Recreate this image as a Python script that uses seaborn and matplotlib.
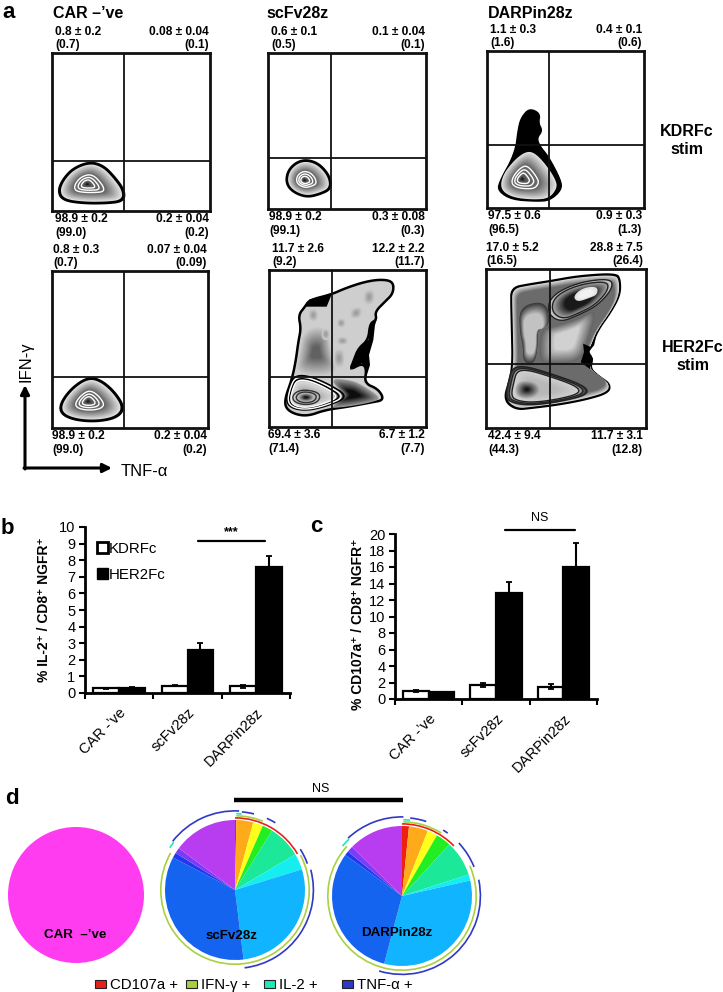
import numpy as np
import pandas as pd
import seaborn as sns
import matplotlib
matplotlib.use("Agg")
import matplotlib.pyplot as plt
from matplotlib.patches import Arc, Patch, Rectangle

W, H = 723, 992

# ---- panel a: quadrant percentages
a_columns = ["CAR \u2013\u2019ve", "scFv28z", "DARPin28z"]
ul_mean = ["0.8 \u00b1 0.2", "0.6 \u00b1 0.1", "1.1 \u00b1 0.3", "0.8 \u00b1 0.3", "11.7 \u00b1 2.6", "17.0 \u00b1 5.2"]
ul_rep = ["(0.7)", "(0.5)", "(1.6)", "(0.7)", "(9.2)", "(16.5)"]
ur_mean = ["0.08 \u00b1 0.04", "0.1 \u00b1 0.04", "0.4 \u00b1 0.1", "0.07 \u00b1 0.04", "12.2 \u00b1 2.2", "28.8 \u00b1 7.5"]
ur_rep = ["(0.1)", "(0.1)", "(0.6)", "(0.09)", "(11.7)", "(26.4)"]
ll_mean = ["98.9 \u00b1 0.2", "98.9 \u00b1 0.2", "97.5 \u00b1 0.6", "98.9 \u00b1 0.2", "69.4 \u00b1 3.6", "42.4 \u00b1 9.4"]
ll_rep = ["(99.0)", "(99.1)", "(96.5)", "(99.0)", "(71.4)", "(44.3)"]
lr_mean = ["0.2 \u00b1 0.04", "0.3 \u00b1 0.08", "0.9 \u00b1 0.3", "0.2 \u00b1 0.04", "6.7 \u00b1 1.2", "11.7 \u00b1 3.1"]
lr_rep = ["(0.2)", "(0.3)", "(1.3)", "(0.2)", "(7.7)", "(12.8)"]

# contour outlines (channel units of each plot)
car_kdr = [(272,488),(310,500),(340,530),(370,570),(370,600),(320,606),(250,606),(190,597),(178,570),(195,535),(225,505)]
scfv_kdr = [(920,483),(955,495),(985,530),(990,565),(960,580),(920,590),(880,575),(860,550),(865,515),(890,490)]
darpin_kdr = [(262,420),(290,430),(325,470),(350,510),(355,535),(330,568),(280,572),(215,565),(178,540),(185,495),(225,445)]
darpin_tower = [(268,295),(300,310),(295,340),(307,362),(290,385),(300,410),(325,440),(362,510),(365,540),(330,572),(290,575),(215,570),(175,545),(175,520),(225,430),(235,350),(245,320)]
car_her = [(262,445),(300,455),(340,490),(368,535),(345,562),(285,573),(220,568),(180,550),(180,520),(215,475)]

scfv_her = [(133,105),(200,88),(240,70),(300,50),(350,43),(385,50),(385,85),(360,110),(330,140),(335,165),(315,175),(310,225),(280,250),(265,290),(255,315),(290,295),(305,310),(298,355),(340,372),(358,405),(320,412),(250,425),(180,435),(130,453),(90,448),(62,430),(60,400),(80,345),(92,290),(100,230),(108,190),(100,150),(120,125)]
scfv_her_wedge = [(120,125),(133,103),(200,88),(185,125),(150,125)]
scfv_her_edge = [(335,165),(315,175),(310,225),(280,250),(265,290),(255,315),(290,295),(305,310),(298,355),(315,300),(312,270),(325,225),(330,180)]
scfv_her_column = [(115,190),(190,180),(200,260),(225,335),(90,335),(100,270)]
scfv_her_spots = [[(255,130),(292,122),(292,158),(255,165)], [(295,75),(330,70),(330,118),(295,122)],
                  [(215,160),(242,160),(242,188),(215,188)], [(170,190),(195,190),(195,225),(170,225)],
                  [(215,215),(250,215),(250,240),(215,240)], [(130,130),(160,130),(160,170),(130,170)],
                  [(205,250),(240,250),(240,310),(205,310)]]
scfv_her_dark = [(190,340),(260,345),(300,365),(350,400),(320,412),(250,425),(190,430),(245,395)]
scfv_her_lobe = [(90,335),(130,335),(190,360),(245,395),(190,420),(130,435),(85,430),(65,410),(75,365)]
scfv_her_core = [(122,380),(150,386),(155,398),(145,410),(120,414),(98,408),(92,396),(102,384)]

darpin_her = [(88,70),(140,60),(205,50),(290,35),(400,28),(412,45),(412,90),(385,140),(345,195),(325,245),(315,260),(330,280),(322,310),(352,335),(382,355),(378,380),(310,400),(230,415),(150,425),(100,430),(65,400),(85,340),(92,290),(90,200),(88,120)]
darpin_her_edge = [(345,195),(325,245),(302,235),(305,260),(295,290),(322,310),(332,280),(318,260),(335,240)]
darpin_her_lobe = [(215,95),(285,60),(375,48),(380,75),(340,120),(290,145),(240,165),(205,140)]
darpin_her_core = [(272,95),(300,70),(345,65),(345,90),(320,100),(285,112)]
darpin_her_column = [(115,130),(190,115),(200,185),(165,185),(165,250),(155,290),(125,285),(125,240),(115,200)]
darpin_her_mid = [(205,185),(290,160),(345,130),(320,220),(295,290),(210,295),(170,290),(175,195)]
darpin_her_lower = [(95,310),(130,305),(200,325),(300,360),(310,385),(230,405),(150,415),(100,410),(75,395),(85,345)]
darpin_her_spot = [(130,345),(160,350),(175,372),(160,392),(130,398),(105,390),(100,368),(110,350)]

# ---- panels b and c
constructs = ["CAR -\u2019ve", "scFv28z", "DARPin28z"]
stim = ["KDRFc", "HER2Fc"]
il2_kdr = [0.30, 0.45, 0.40]
il2_her = [0.33, 2.60, 7.60]
il2_kdr_err = [0.03, 0.03, 0.10]
il2_her_err = [0.04, 0.40, 0.65]
cd107_kdr = [0.95, 1.70, 1.50]
cd107_her = [0.80, 12.80, 16.00]
cd107_kdr_err = [0.10, 0.30, 0.30]
cd107_her_err = [0.10, 1.40, 2.90]

# ---- panel d
slice_colors = ["#F02010", "#FFAA1A", "#FFFF1A", "#22EE22", "#1CE89A", "#14EEEE", "#10B4FF", "#1464F0", "#2038F0", "#7A3CF5", "#B83CF0"]
scfv_slices = [0.3, 3.9, 2.3, 2.4, 7.6, 3.7, 27.8, 34.6, 1.2, 1.3, 14.8]
darpin_slices = [1.6, 4.4, 2.3, 3.5, 8.2, 1.4, 32.6, 30.8, 1.0, 1.4, 12.6]
marker_names = ["CD107a +", "IFN-\u03b3 +", "IL-2 +", "TNF-\u03b1 +"]
marker_colors = ["#E8201C", "#A8D040", "#20E8B8", "#3038C8"]
# arcs round the pies: colour index, start, end (degrees clockwise from 12 o'clock), radius
scfv_arcs = [(0, 0, 60, 1.03), (1, 1, 22, 1.06), (1, 62, 300, 1.06), (2, 1, 5, 1.09), (2, -57, -52, 1.11),
             (3, -52, 3, 1.13), (3, 5, 14, 1.12), (3, 24, 31, 1.12), (3, 58, 70, 1.10), (3, 75, 173, 1.12)]
darpin_arcs = [(0, 0, 46, 1.03), (1, 1, 32, 1.06), (1, 66, 312, 1.06), (2, 1, 6, 1.09), (2, -50, -43, 1.11),
               (3, -43, 1, 1.13), (3, 6, 18, 1.12), (3, 32, 36, 1.11), (3, 47, 68, 1.11), (3, 78, 197, 1.12)]

sns.set_style("white")
plt.rcParams["font.family"] = ["Liberation Sans", "DejaVu Sans"]
plt.rcParams["text.color"] = "black"
plt.rcParams["axes.labelcolor"] = "black"
plt.rcParams["xtick.color"] = "black"
plt.rcParams["ytick.color"] = "black"


def box_axes(fig, left, top, right, bottom):
    return fig.add_axes([left / W, 1 - bottom / H, (right - left) / W, (bottom - top) / H])


def smooth(points, rounds=3):
    pts = np.asarray(points, dtype=float)
    for _ in range(rounds):
        nxt = np.roll(pts, -1, axis=0)
        pts = np.column_stack([0.75 * pts + 0.25 * nxt, 0.25 * pts + 0.75 * nxt]).reshape(-1, 2)
    return pts


def shrink(points, k, centre=None):
    pts = smooth(points)
    if centre is None:
        centre = pts.mean(axis=0)
    return np.asarray(centre) + k * (pts - np.asarray(centre))


def shade(ax, points, grey_from, grey_to, k_from=1.0, k_to=0.2, steps=12, centre=None):
    for i in range(steps):
        t = i / (steps - 1)
        xy = shrink(points, k_from + t * (k_to - k_from), centre)
        ax.fill(xy[:, 0], xy[:, 1], color=str(grey_from + t * (grey_to - grey_from)), lw=0)


def rings(ax, points, scales, centre=None, color="white", lw=1.0):
    for k in scales:
        xy = shrink(points, k, centre)
        ax.fill(xy[:, 0], xy[:, 1], fc="none", ec=color, lw=lw)


def simple_blob(ax, outline, centre, edge=3.2):
    xy = shrink(outline, 1.0)
    ax.fill(xy[:, 0], xy[:, 1], fc="black", ec="black", lw=edge)
    shade(ax, outline, 0.88, 0.36, k_from=0.97, k_to=0.48, steps=14, centre=centre)
    shade(ax, outline, 0.42, 0.35, k_from=0.48, k_to=0.12, steps=5, centre=centre)
    rings(ax, outline, [0.46, 0.33, 0.21], centre, lw=1.0)
    shade(ax, outline, 0.30, 0.10, k_from=0.11, k_to=0.04, steps=3, centre=centre)


def scfv_big(ax):
    xy = shrink(scfv_her, 1.0)
    ax.fill(xy[:, 0], xy[:, 1], fc="#cecece", ec="black", lw=1.8)
    for patch in (scfv_her_wedge, scfv_her_edge):
        p = np.asarray(patch)
        ax.fill(p[:, 0], p[:, 1], color="black", lw=0)
    shade(ax, scfv_her_column, 0.80, 0.38, k_to=0.25, steps=16)
    for spot in scfv_her_spots:
        shade(ax, spot, 0.80, 0.62, k_to=0.25, steps=6)
    shade(ax, scfv_her_dark, 0.60, 0.05, k_to=0.3)
    shade(ax, scfv_her_lobe, 0.25, 0.85, k_from=1.05, k_to=0.76, steps=5, centre=(122, 397))
    shade(ax, scfv_her_lobe, 0.85, 0.70, k_from=0.76, k_to=0.42, centre=(122, 397))
    rings(ax, scfv_her_lobe, [1.05, 0.9], (122, 397), color="black", lw=1.1)
    rings(ax, scfv_her_lobe, [0.97, 0.82], (122, 397), color="white", lw=1.0)
    rings(ax, scfv_her_core, [1.35, 1.0], color="#333333", lw=1.0)
    shade(ax, scfv_her_core, 0.6, 0.1, k_from=0.7, k_to=0.2, steps=6)


def darpin_big(ax):
    xy = shrink(darpin_her, 1.0)
    ax.fill(xy[:, 0], xy[:, 1], fc="black", ec="black", lw=1.8)
    shade(ax, darpin_her, 0.85, 0.42, k_from=0.985, k_to=0.90, steps=10)
    shade(ax, darpin_her_mid, 0.40, 0.82, k_from=1.0, k_to=0.45)
    shade(ax, darpin_her_column, 0.22, 0.76, k_from=1.08, k_to=0.72)
    shade(ax, darpin_her_lobe, 0.82, 0.10, k_from=1.12, k_to=0.55)
    rings(ax, darpin_her_lobe, [1.12, 0.98], color="#222222", lw=1.0)
    shade(ax, darpin_her_core, 0.88, 0.95, k_from=1.0, k_to=0.6, steps=4)
    edge = np.asarray(darpin_her_edge)
    ax.fill(edge[:, 0], edge[:, 1], color="black", lw=0)
    shade(ax, darpin_her_lower, 0.20, 0.82, k_from=1.06, k_to=0.88, steps=5, centre=(170, 368))
    shade(ax, darpin_her_lower, 0.82, 0.72, k_from=0.88, k_to=0.40, centre=(170, 368))
    rings(ax, darpin_her_lower, [1.06, 0.97, 0.88], (170, 368), color="#222222", lw=1.0)
    shade(ax, darpin_her_spot, 0.70, 0.08, k_from=1.05, k_to=0.15, steps=12)


def pie_axes(fig, cx, cy, values, colors, px_radius=70, half=110):
    ax = box_axes(fig, cx - half, cy - half, cx + half, cy + half)
    ax.pie(values, colors=colors, startangle=90, counterclock=False, radius=1,
           wedgeprops={"linewidth": 0, "edgecolor": "none"})
    ax.set_xlim(-half / px_radius, half / px_radius)
    ax.set_ylim(-half / px_radius, half / px_radius)
    ax.patch.set_alpha(0)
    return ax


def draw_arcs(ax, arcs):
    for idx, start, end, radius in arcs:
        ax.add_patch(Arc((0, 0), 2 * radius, 2 * radius, theta1=90 - end, theta2=90 - start,
                         color=marker_colors[idx], lw=1.2))


def bar_panel(ax, kdr, her, kdr_err, her_err, ymax, step, ylabel, label_y, pad):
    df = pd.DataFrame({
        "construct": constructs * 2,
        "stim": [stim[0]] * 3 + [stim[1]] * 3,
        "pct": kdr + her,
    })
    sns.barplot(data=df, x="construct", y="pct", hue="stim", palette=["white", "black"], width=0.76, gap=0,
                edgecolor="black", linewidth=1.6, errorbar=None, legend=False, ax=ax)
    for bars, vals, errs, both in zip(ax.containers, (kdr, her), (kdr_err, her_err), (True, False)):
        xs = [b.get_x() + b.get_width() / 2 for b in bars]
        low = errs if both else [0] * 3
        ax.errorbar(xs, vals, yerr=[low, errs], fmt="none", ecolor="black", elinewidth=1.5, capsize=2.5, capthick=1.3)
    ax.set_xlim(-0.5, 2.5)
    ax.set_ylim(0, ymax)
    ax.set_yticks(np.arange(0, ymax + 1, step))
    ax.set_xticks([-0.5, 0.5, 1.5, 2.5])
    ax.set_xticklabels([])
    ax.set_xticks([0, 1, 2], minor=True)
    ax.set_xticklabels(constructs, minor=True, rotation=45, ha="right", rotation_mode="anchor", fontsize=10.5)
    ax.tick_params(axis="x", which="minor", length=0, pad=9)
    ax.tick_params(axis="x", which="major", length=4, width=1.5, bottom=True)
    ax.tick_params(axis="y", length=4, width=1.5, left=True, labelsize=10.5, pad=3)
    ax.set_xlabel("")
    ax.set_ylabel(ylabel, fontsize=10, fontweight="bold", y=label_y, labelpad=pad)
    sns.despine(ax=ax)
    for side in ("left", "bottom"):
        ax.spines[side].set_linewidth(2)
        ax.spines[side].set_color("black")
    ax.patch.set_alpha(0)


fig = plt.figure(figsize=(W / 100, H / 100), dpi=100)

# ---- a: contour plots; box in figure pixels, channel limits, gates
panels = [
    ((52, 53, 210, 211), (157, 630), (632, 160), 374, 482),
    ((268, 53, 426, 209), (803, 1277), (628, 160), 993, 476),
    ((487, 51, 644, 208), (140, 613), (595, 122), 328, 405),
    ((52, 271, 208, 428), (151, 624), (595, 123), 369, 443),
    ((269, 270, 426, 427), (12, 483), (486, 15), 200, 335),
    ((486, 269, 646, 428), (12, 490), (485, 14), 204, 296),
]
for i, (box, xlim, ylim, gx, gy) in enumerate(panels):
    ax = box_axes(fig, *box)
    if i == 0:
        simple_blob(ax, car_kdr, (262, 552))
    elif i == 1:
        simple_blob(ax, scfv_kdr, (912, 542))
    elif i == 2:
        t = smooth(darpin_tower, 2)
        ax.fill(t[:, 0], t[:, 1], fc="black", ec="black", lw=1)
        simple_blob(ax, darpin_kdr, (245, 508), edge=0)
    elif i == 3:
        simple_blob(ax, car_her, (260, 515))
    elif i == 4:
        scfv_big(ax)
    else:
        darpin_big(ax)
    ax.axvline(gx, color="#111111", lw=1.3)
    ax.axhline(gy, color="#111111", lw=1.3)
    ax.set_xlim(*xlim)
    ax.set_ylim(*ylim)
    ax.set_xticks([])
    ax.set_yticks([])
    for s in ax.spines.values():
        s.set_linewidth(2.0)
        s.set_color("#111111")
        s.set_visible(True)

# ---- b, c
ax_b = box_axes(fig, 85, 527, 290, 693)
bar_panel(ax_b, il2_kdr, il2_her, il2_kdr_err, il2_her_err, 10, 1,
          "% IL-2\u207a / CD8\u207a NGFR\u207a", 0.5, 6)
ax_b.legend(handles=[Patch(fc="white", ec="black", lw=2, label=stim[0]), Patch(fc="black", ec="black", label=stim[1])],
            loc="upper left", bbox_to_anchor=(0.06, 0.91), frameon=False, fontsize=10.8, handlelength=0.7,
            handleheight=0.8, handletextpad=0.05, labelspacing=0.8, borderpad=0, borderaxespad=0)

ax_c = box_axes(fig, 395, 534, 597, 699)
bar_panel(ax_c, cd107_kdr, cd107_her, cd107_kdr_err, cd107_her_err, 20, 2,
          "% CD107a\u207a / CD8\u207a NGFR\u207a", 0.455, 3)

# ---- d
colors_mag = ["#FF3CF0"]
ax_d0 = pie_axes(fig, 76, 895, [100], colors_mag, px_radius=68)
ax_d1 = pie_axes(fig, 235, 890, scfv_slices, slice_colors)
draw_arcs(ax_d1, scfv_arcs)
ax_d2 = pie_axes(fig, 402, 896, darpin_slices, slice_colors)
draw_arcs(ax_d2, darpin_arcs)

# ---- loose text, brackets and keys in figure pixels
ov = fig.add_axes([0, 0, 1, 1], zorder=20)
ov.set_xlim(0, W)
ov.set_ylim(H, 0)
ov.axis("off")

for x, y, s in [(2, 12, "a"), (1, 528, "b"), (310, 527, "c"), (5, 798, "d")]:
    ov.text(x, y, s, fontsize=16, fontweight="bold", va="center", ha="left")
for x, s in zip((53, 266, 488), a_columns):
    ov.text(x, 13, s, fontsize=11.5, fontweight="bold", va="center", ha="left")

top_left_x = [55, 271, 490, 53, 272, 486]
low_left_x = [55, 269, 488, 52, 268, 488]
right_x = [209, 425, 642, 207, 425, 643]
for i, (box, *_rest) in enumerate(panels):
    top, bottom = box[1], box[3]
    for y, s in [(top - 21, ul_mean[i]), (top - 8, ul_rep[i])]:
        ov.text(top_left_x[i], y, s, fontsize=8.6, fontweight="bold", va="center", ha="left")
    for y, s in [(top - 21, ur_mean[i]), (top - 8, ur_rep[i])]:
        ov.text(right_x[i], y, s, fontsize=8.6, fontweight="bold", va="center", ha="right")
    for y, s in [(bottom + 8, ll_mean[i]), (bottom + 22, ll_rep[i])]:
        ov.text(low_left_x[i], y, s, fontsize=8.6, fontweight="bold", va="center", ha="left")
    for y, s in [(bottom + 8, lr_mean[i]), (bottom + 22, lr_rep[i])]:
        ov.text(right_x[i], y, s, fontsize=8.6, fontweight="bold", va="center", ha="right")

for x, y, s in [(687, 131, "KDRFc"), (687, 150, "stim"), (693, 347, "HER2Fc"), (693, 366, "stim")]:
    ov.text(x, y, s, fontsize=11.5, fontweight="bold", va="center", ha="center")

arrow = dict(arrowstyle="-|>", color="black", lw=2.2, shrinkA=0, shrinkB=0, mutation_scale=13)
ov.annotate("", xy=(25, 385), xytext=(25, 469), arrowprops=arrow)
ov.annotate("", xy=(112, 468), xytext=(24, 468), arrowprops=arrow)
ov.text(26, 362, "IFN-\u03b3", fontsize=12, rotation=90, va="center", ha="center")
ov.text(121, 471, "TNF-\u03b1", fontsize=12, va="center", ha="left")

ov.plot([198, 265], [541, 541], color="black", lw=1.6)
ov.text(231, 532, "***", fontsize=9, fontweight="bold", va="center", ha="center")
ov.plot([505, 575], [530, 530], color="black", lw=1.6)
ov.text(540, 518, "NS", fontsize=9, va="center", ha="center")
ov.plot([234, 403], [800, 800], color="black", lw=3.2, solid_capstyle="butt")
ov.text(321, 789, "NS", fontsize=9, va="center", ha="center")

for x, y, s in [(75, 935, "CAR  \u2013\u2019ve"), (231, 936, "scFv28z"), (397, 933, "DARPin28z")]:
    ov.text(x, y, s, fontsize=9.6, fontweight="bold", va="center", ha="center")

for x, name, col in zip((95, 186, 264, 342), marker_names, marker_colors):
    ov.add_patch(Rectangle((x, 980), 11, 8, fc=col, ec="#222222", lw=0.8))
    ov.text(x + 15, 985, name, fontsize=10.8, va="center", ha="left")

fig.savefig("out.png", dpi=100, facecolor="white")
plt.close(fig)
